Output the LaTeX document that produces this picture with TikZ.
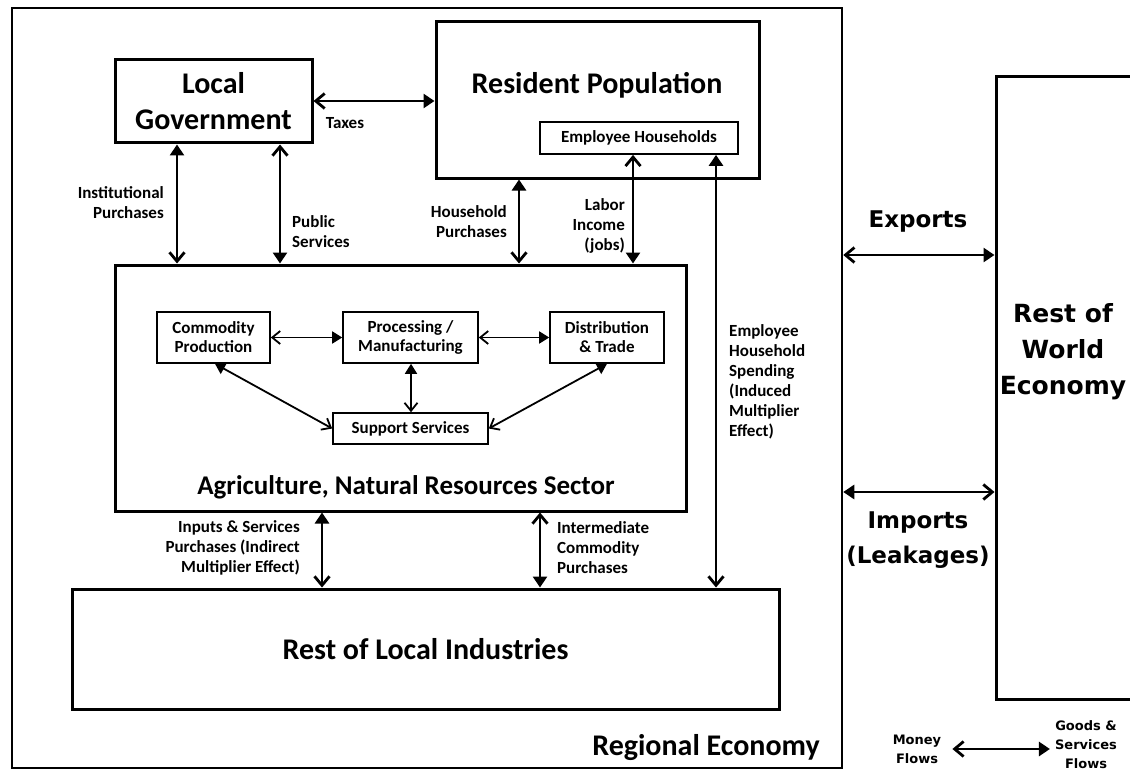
\documentclass[tikz,border=0pt]{standalone}
\usepackage{fontspec}
\setmainfont{Carlito}
\newfontfamily\dvs{DejaVu Sans}
\usetikzlibrary{arrows.meta,calc}
\tikzset{
  money/.tip={Straight Barb[length=9pt,width=15pt]},
  goods/.tip={Triangle[length=11pt,width=14pt]},
  imoney/.tip={Straight Barb[length=8pt,width=13pt]},
  igoods/.tip={Triangle[length=10pt,width=12pt]},
  box/.style={draw, line width=3pt, inner sep=0pt, align=center, font=\fontsize{30}{36}\selectfont\bfseries},
  ibox/.style={draw, line width=1.6pt, inner sep=0pt, align=center, font=\fontsize{17}{19}\selectfont\bfseries},
  lbl/.style={inner sep=0pt, font=\fontsize{17}{20}\selectfont\bfseries},
  big/.style={inner sep=0pt, align=center, font=\dvs\bfseries\fontsize{23}{35}\selectfont},
  sz/.style 2 args={minimum width=#1pt, minimum height=#2pt},
  flow/.style={line width=2.8pt},
  iflow/.style={line width=1.8pt},
}
\begin{document}
\begin{tikzpicture}[x=1pt,y=-1pt]
\useasboundingbox (0,0) rectangle (1130,773);
\fill[white] (0,0) rectangle (1130,773);

% boxes
\node[box, line width=2.5pt, sz={830}{760}] (reg) at (427,388) {};
\node[box, sz={197}{83}] (lg) at (213.5,101.5) {Local\\Government};
\node[box, sz={323}{156}] (rp) at (597.5,100) {};
\node[inner sep=0pt, font=\fontsize{30}{36}\selectfont\bfseries] (rpt) at (597,85) {Resident Population};
\node[ibox, line width=1.8pt, sz={198}{32}] (eh) at (639,138) {Employee Households};
\node[box, sz={571}{246}] (ag) at (400.5,388) {};
\node[inner sep=0pt, font=\fontsize{27}{32}\selectfont\bfseries] (agt) at (406,487) {Agriculture, Natural Resources Sector};
\node[ibox, sz={113}{51}] (cp) at (213.5,337.5) {Commodity\\Production};
\node[ibox, sz={135}{51}] (pm) at (410.5,337.5) {Processing /\\Manufacturing};
\node[ibox, sz={114}{51}] (dt) at (607,337.5) {Distribution\\\& Trade};
\node[ibox, sz={155}{31}] (ss) at (410.5,428.5) {Support Services};
\node[box, sz={707}{120}] (rli) at (425.5,649) {Rest of Local Industries};
\node[box, sz={140}{622}] (row) at (1066,388) {};
\node[big, font=\dvs\bfseries\fontsize{25}{36}\selectfont] (rowt) at (1063,352) {Rest of\\World\\Economy};
\node[inner sep=0pt, font=\fontsize{30}{36}\selectfont\bfseries] (regt) at (706,748) {Regional Economy};

% labels
\node[lbl] (taxes) at (345,123) {Taxes};
\node[lbl, anchor=east, align=right] (inst) at (164,203) {Institutional\\Purchases};
\node[lbl, anchor=west, align=left] (pub) at (292,232) {Public\\Services};
\node[lbl, anchor=east, align=right] (hh) at (507,222) {Household\\Purchases};
\node[lbl, anchor=east, align=right] (lab) at (625,226) {Labor\\Income\\(jobs)};
\node[lbl, anchor=west, align=left] (ehs) at (729,382) {Employee\\Household\\Spending\\(Induced\\Multiplier\\Effect)};
\node[lbl, anchor=east, align=right] (inp) at (300,548) {Inputs \& Services\\Purchases (Indirect\\Multiplier Effect)};
\node[lbl, anchor=west, align=left] (intm) at (557,548) {Intermediate\\Commodity\\Purchases};
\node[big] (exp) at (918,222) {Exports};
\node[big] (imp) at (918,540) {Imports\\(Leakages)};
\node[big, font=\dvs\bfseries\fontsize{13}{19}\selectfont] (mon) at (917,749) {Money\\Flows};
\node[big, font=\dvs\bfseries\fontsize{13}{19}\selectfont] (gds) at (1086,745) {Goods \&\\Services\\Flows};

% x / y positions of connectors
\coordinate (xInst) at (177,0);
\coordinate (xPub) at (280,0);
\coordinate (xHH) at (519,0);
\coordinate (xLab) at (633,0);
\coordinate (xEHS) at (716,0);
\coordinate (xInp) at (322,0);
\coordinate (xInt) at (540,0);
\coordinate (xPS) at (411,0);
\coordinate (xCS) at (215,0);
\coordinate (xDS) at (607,0);
\coordinate (yTax) at (0,101);
\coordinate (yExp) at (0,255);
\coordinate (yImp) at (0,492);
\coordinate (yLeg) at (0,749);

% connectors
\draw[flow, money-goods] (lg.east |- yTax) -- (rp.west |- yTax);
\draw[flow, goods-money] (lg.south -| xInst) -- (ag.north -| xInst);
\draw[flow, money-goods] (lg.south -| xPub) -- (ag.north -| xPub);
\draw[flow, goods-money] (rp.south -| xHH) -- (ag.north -| xHH);
\draw[flow, money-goods] (eh.south -| xLab) -- (ag.north -| xLab);
\draw[flow, goods-money] (eh.south -| xEHS) -- (rli.north -| xEHS);
\draw[flow, goods-money] (ag.south -| xInp) -- (rli.north -| xInp);
\draw[flow, money-goods] (ag.south -| xInt) -- (rli.north -| xInt);
\draw[flow, money-goods] (reg.east |- yExp) -- (row.west |- yExp);
\draw[flow, goods-money] (reg.east |- yImp) -- (row.west |- yImp);
\draw[flow, money-goods, shorten <=11pt, shorten >=5pt] (mon.east |- yLeg) -- (gds.west |- yLeg);

\draw[iflow, imoney-igoods] (cp.east) -- (pm.west);
\draw[iflow, imoney-igoods] (pm.east) -- (dt.west |- pm.east);
\draw[iflow, igoods-imoney] (pm.south -| xPS) -- (ss.north -| xPS);
\draw[iflow, igoods-imoney] (cp.south -| xCS) -- (ss.west);
\draw[iflow, igoods-imoney] (dt.south -| xDS) -- (ss.east);
\end{tikzpicture}
\end{document}
